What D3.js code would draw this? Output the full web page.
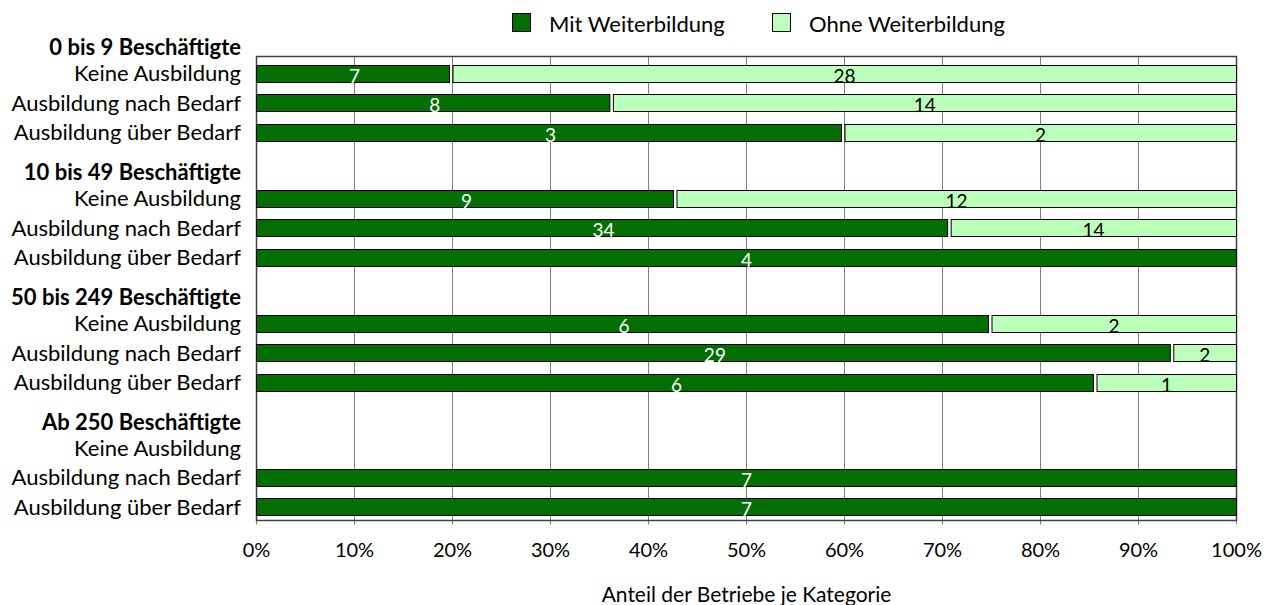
<!DOCTYPE html>
<html><head><meta charset="utf-8">
<script src="https://cdn.jsdelivr.net/npm/d3@7"></script>
<style>body{margin:0;background:#fff}svg{display:block}text{font-family:Lato,"Open Sans",sans-serif}</style>
</head><body><svg id="c" width="1276" height="605"></svg>
<script>
const groups = ["0 bis 9 Beschäftigte","10 bis 49 Beschäftigte","50 bis 249 Beschäftigte","Ab 250 Beschäftigte"];
const rowLabels = ["Keine Ausbildung","Ausbildung nach Bedarf","Ausbildung über Bedarf"];
const seriesNames = ["Mit Weiterbildung","Ohne Weiterbildung"];
const mitValues  = [7,8,3, 9,34,4, 6,29,6, 0,7,7];
const ohneValues = [28,14,2, 12,14,0, 2,2,1, 0,0,0];
const xTicks = [0,0.1,0.2,0.3,0.4,0.5,0.6,0.7,0.8,0.9,1];
const axisTitle = "Anteil der Betriebe je Kategorie";

const colDark = "#036F03", colLight = "#BBFFBB";
const svg = d3.select("#c");
const L = 256.5, R = 1236.5, T = 56.5, B = 520.5;
const x = d3.scaleLinear().domain([0,1]).range([L,R]);
const y = d3.scaleLinear().domain([0,15.78]).range([T,B]);
const rowPos = (g,r) => 0.57 + g*4.25 + r;
const barH = 17;

// gridlines
svg.append("g").selectAll("line").data(xTicks).join("line")
  .attr("x1",d=>x(d)).attr("x2",d=>x(d)).attr("y1",T).attr("y2",B+4)
  .attr("stroke","#7f7f7f").attr("stroke-width",1);
// frame
svg.append("rect").attr("x",L).attr("y",T).attr("width",R-L).attr("height",B-T)
  .attr("fill","none").attr("stroke","#404040").attr("stroke-width",1.5);

const rows = [];
groups.forEach((g,gi)=>rowLabels.forEach((rl,ri)=>{
  const i = gi*3+ri;
  rows.push({g:gi,r:ri,label:rl,mit:mitValues[i],ohne:ohneValues[i]});
}));

const bars = svg.append("g");
rows.forEach(d=>{
  const tot = d.mit + d.ohne;
  if (!tot) return;
  const cy = y(rowPos(d.g,d.r));
  const top = Math.round(cy - barH/2) + 0.5;
  const xm = x(d.mit/tot);
  if (d.mit>0){
    const w = xm - L - (d.ohne>0 ? 3 : 0);
    bars.append("rect").attr("x",L).attr("y",top).attr("width",w).attr("height",barH)
      .attr("fill",colDark).attr("stroke","#000").attr("stroke-width",1);
    bars.append("text").attr("x",(L+xm)/2).attr("y",top+barH+0.5).attr("text-anchor","middle")
      .attr("font-size",19).attr("fill","#fff").text(d.mit);
  }
  if (d.ohne>0){
    bars.append("rect").attr("x",xm+0.5).attr("y",top).attr("width",R-xm-0.5).attr("height",barH)
      .attr("fill",colLight).attr("stroke","#000").attr("stroke-width",1);
    bars.append("text").attr("x",(xm+R)/2).attr("y",top+barH+0.5).attr("text-anchor","middle")
      .attr("font-size",19).attr("fill","#000").text(d.ohne);
  }
});

// category labels
const lab = svg.append("g").attr("text-anchor","end");
rows.forEach(d=>{
  lab.append("text").attr("x",241).attr("y",y(rowPos(d.g,d.r))).attr("dy","0.36em")
    .attr("font-size",22).attr("fill","#000").text(d.label);
});
groups.forEach((g,gi)=>{
  lab.append("text").attr("x",241).attr("y",y(rowPos(gi,0)-0.88)).attr("dy","0.36em")
    .attr("font-size",22).attr("font-weight","bold").attr("fill","#000").text(g);
});

// x axis tick labels
svg.append("g").selectAll("text").data(xTicks).join("text")
  .attr("x",d=>x(d)).attr("y",550).attr("dy","0.36em").attr("text-anchor","middle")
  .attr("font-size",20).text(d3.format(".0%"));
svg.append("text").attr("x",(L+R)/2).attr("y",594).attr("dy","0.36em").attr("text-anchor","middle")
  .attr("font-size",21).text(axisTitle);

// legend
const leg = [{name:seriesNames[0],c:colDark,x:512},{name:seriesNames[1],c:colLight,x:772}];
leg.forEach(l=>{
  svg.append("rect").attr("x",l.x+0.5).attr("y",13.5).attr("width",18).attr("height",18)
    .attr("fill",l.c).attr("stroke","#000").attr("stroke-width",1);
  svg.append("text").attr("x",l.x+37).attr("y",24).attr("dy","0.36em").attr("font-size",22).text(l.name);
});
</script></body></html>
